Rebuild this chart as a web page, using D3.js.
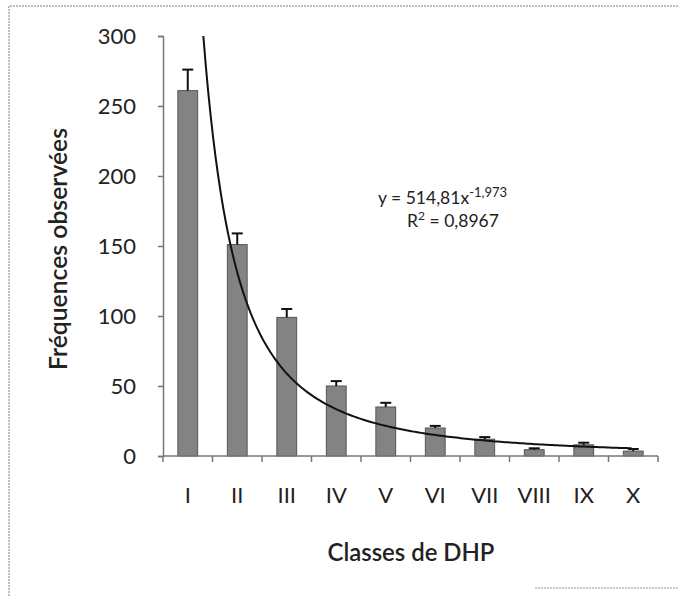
<!DOCTYPE html>
<html>
<head>
<meta charset="utf-8">
<script src="https://cdn.jsdelivr.net/npm/d3@7"></script>
<style>
body { margin: 0; background: #fff; }
text { font-family: Lato, "Open Sans", sans-serif; fill: #222; }
</style>
</head>
<body>
<script>
// données
var classes = ["I", "II", "III", "IV", "V", "VI", "VII", "VIII", "IX", "X"];
var frequences = [261, 151, 99, 50, 35, 20, 12, 4.5, 8, 3.5];
var erreurs = [15, 8, 6, 3.5, 3, 1.5, 1.5, 1, 1.5, 1.5];
var yTicks = [0, 50, 100, 150, 200, 250, 300];
// courbe de tendance y = a*x^b
var coefA = 514.81;
var coefB = -1.973;

var width = 679, height = 596;
var xLeft = 163, xRight = 658, yTop = 36, yBottom = 456;

var svg = d3.select("body").append("svg")
    .attr("width", width)
    .attr("height", height);

// cadre gris du scan
svg.append("path")
    .attr("d", "M9 596 L9 6 L679 6")
    .attr("fill", "none")
    .attr("stroke", "#aaa")
    .attr("stroke-width", 1.5)
    .attr("stroke-dasharray", "2,1");
svg.append("path")
    .attr("d", "M535 588 L679 588")
    .attr("stroke", "#bbb")
    .attr("stroke-width", 1.5)
    .attr("stroke-dasharray", "2,1");

var x = d3.scaleBand().domain(classes).range([xLeft, xRight]).padding(0);
var xLin = d3.scaleLinear().domain([0.5, classes.length + 0.5]).range([xLeft, xRight]);
var y = d3.scaleLinear().domain([0, 300]).range([yBottom, yTop]);

var bw = x.bandwidth();

// barres
svg.selectAll("rect.bar")
    .data(frequences)
    .enter().append("rect")
    .attr("class", "bar")
    .attr("x", function(d, i) { return x(classes[i]) + bw * 0.3; })
    .attr("width", bw * 0.4)
    .attr("y", function(d) { return y(d); })
    .attr("height", function(d) { return y(0) - y(d); })
    .attr("fill", "#838383")
    .attr("stroke", "#555")
    .attr("stroke-width", 1);

// barres d'erreur
var err = svg.append("g");
frequences.forEach(function(d, i) {
    var cx = x(classes[i]) + bw / 2;
    err.append("line")
        .attr("x1", cx).attr("x2", cx)
        .attr("y1", y(d)).attr("y2", y(d + erreurs[i]))
        .attr("stroke", "#111").attr("stroke-width", 2);
    err.append("line")
        .attr("x1", cx - 5.5).attr("x2", cx + 5.5)
        .attr("y1", y(d + erreurs[i])).attr("y2", y(d + erreurs[i]))
        .attr("stroke", "#111").attr("stroke-width", 2);
});

// courbe de tendance (limitée à 300)
var xStart = Math.pow(300 / coefA, 1 / coefB);
var pts = d3.range(xStart, classes.length + 0.0001, 0.05).map(function(t) {
    return [xLin(t), y(coefA * Math.pow(t, coefB))];
});
svg.append("path")
    .attr("d", d3.line()(pts))
    .attr("fill", "none")
    .attr("stroke", "#111")
    .attr("stroke-width", 2);

// axe y
var yAxis = svg.append("g")
    .attr("transform", "translate(" + xLeft + ",0)")
    .call(d3.axisLeft(y).tickValues(yTicks).tickSize(5).tickPadding(22));
yAxis.select(".domain").attr("stroke", "#777").attr("stroke-width", 1.5);
yAxis.selectAll(".tick line").attr("stroke", "#777").attr("stroke-width", 1.5);
yAxis.selectAll(".tick text")
    .style("font-family", "Lato, sans-serif")
    .style("font-size", "22px")
    .attr("fill", "#222");

// axe x
svg.append("line")
    .attr("x1", xLeft).attr("x2", xRight)
    .attr("y1", y(0)).attr("y2", y(0))
    .attr("stroke", "#777").attr("stroke-width", 1.5);
var xTickPos = classes.map(function(c) { return x(c); }).concat([xRight]);
svg.selectAll("line.xtick")
    .data(xTickPos)
    .enter().append("line")
    .attr("class", "xtick")
    .attr("x1", function(d) { return d; }).attr("x2", function(d) { return d; })
    .attr("y1", y(0)).attr("y2", y(0) + 6)
    .attr("stroke", "#777").attr("stroke-width", 1.5);
svg.selectAll("text.xlab")
    .data(classes)
    .enter().append("text")
    .attr("class", "xlab")
    .attr("x", function(d) { return x(d) + bw / 2; })
    .attr("y", 503)
    .attr("text-anchor", "middle")
    .style("font-size", "22px")
    .text(function(d) { return d; });

// titres : taille ajustée à la longueur
function fitFont(sel, target) {
    var len = sel.node().getComputedTextLength();
    sel.style("font-size", (22 * target / len) + "px");
}
var xTitle = svg.append("text")
    .attr("x", 411).attr("y", 561)
    .attr("text-anchor", "middle")
    .style("font-size", "22px")
    .style("font-weight", "600")
    .text("Classes de DHP");
fitFont(xTitle, 167);
var yTitle = svg.append("text")
    .attr("transform", "translate(67,249) rotate(-90)")
    .attr("text-anchor", "middle")
    .style("font-size", "22px")
    .style("font-weight", "600")
    .text("Fréquences observées");
fitFont(yTitle, 242);

// équation
var eq = svg.append("text")
    .attr("x", 378).attr("y", 204)
    .style("font-size", "17.5px");
eq.append("tspan").text("y = 514,81x");
eq.append("tspan").attr("dy", -7).style("font-size", "13px").text("-1,973");
var r2 = svg.append("text")
    .attr("x", 453).attr("y", 227)
    .attr("text-anchor", "middle")
    .style("font-size", "17.5px");
r2.append("tspan").text("R");
r2.append("tspan").attr("dy", -7).style("font-size", "12px").text("2");
r2.append("tspan").attr("dy", 7).text(" = 0,8967");
</script>
</body>
</html>
